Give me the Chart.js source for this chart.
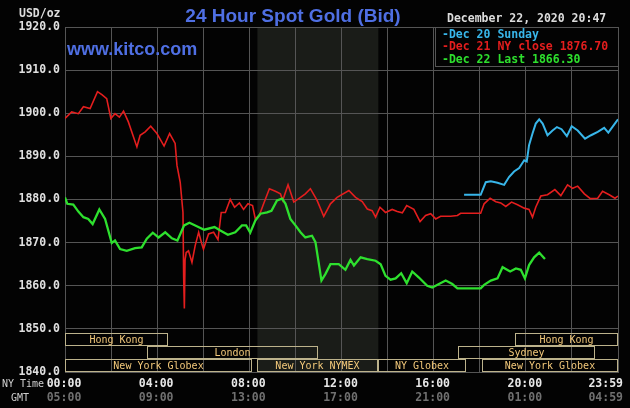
<!DOCTYPE html>
<html><head><meta charset="utf-8">
<script src="https://cdn.jsdelivr.net/npm/chart.js@4.4.1/dist/chart.umd.min.js"></script>
<style>html,body{margin:0;padding:0;background:#000;overflow:hidden}canvas{display:block}</style>
</head><body>
<canvas id="c" width="630" height="408"></canvas>
<script>
// ---- text ----
const titleText = '24 Hour Spot Gold (Bid)';
const siteText = 'www.kitco.com';
const unitText = 'USD/oz';
const stampText = 'December 22, 2020 20:47';
const nyRowLabel = 'NY Time';
const gmtRowLabel = 'GMT';
const seriesLabels = ['Dec 20 Sunday', 'Dec 21 NY close 1876.70', 'Dec 22 Last 1866.30'];

// ---- x tick labels (hours 0,4,...,24) ----
const tickHours = [0, 4, 8, 12, 16, 20, 24];
const nyTickLabels = ['00:00', '04:00', '08:00', '12:00', '16:00', '20:00', '23:59'];
const gmtTickLabels = ['05:00', '09:00', '13:00', '17:00', '21:00', '01:00', '04:59'];

// ---- Dec 20 Sunday (blue) ----
const blueHours = [17.32,18.04,18.26,18.48,18.77,19.06,19.27,19.49,19.71,19.93,20.04,20.14,20.29,20.43,20.58,20.73,20.94,21.16,21.35,21.55,21.78,21.99,22.25,22.57,22.83,23.12,23.4,23.58,23.84,24];
const blueValues = [1881.1,1881.1,1884.0,1884.2,1883.9,1883.4,1885.2,1886.5,1887.3,1889.1,1888.8,1892.6,1895.3,1897.6,1898.6,1897.6,1894.9,1896.0,1896.8,1896.3,1894.7,1897.0,1896.0,1894.1,1894.9,1895.7,1896.6,1895.5,1897.4,1898.6];

// ---- Dec 21 (red) ----
const redHours = [0,0.29,0.58,0.8,1.09,1.41,1.6,1.81,1.99,2.17,2.36,2.54,2.75,3.12,3.26,3.48,3.72,3.99,4.3,4.54,4.78,4.86,5.0,5.12,5.15,5.18,5.21,5.26,5.36,5.51,5.65,5.8,5.94,6.01,6.23,6.45,6.64,6.78,6.96,7.17,7.36,7.57,7.75,7.94,8.14,8.26,8.43,8.62,8.87,9.13,9.35,9.45,9.68,9.93,10.22,10.43,10.65,10.94,11.23,11.52,11.81,12.32,12.61,12.9,13.12,13.33,13.48,13.67,13.91,14.2,14.42,14.64,14.83,15.14,15.41,15.65,15.87,16.09,16.3,16.74,17.03,17.17,18.04,18.19,18.45,18.7,18.91,19.13,19.38,19.64,19.93,20.14,20.29,20.43,20.65,20.94,21.26,21.52,21.81,22.03,22.25,22.54,22.8,23.12,23.33,23.62,23.87,24];
const redValues = [1898.8,1900.3,1899.9,1901.5,1901.1,1905.0,1904.3,1903.4,1898.8,1899.9,1899.1,1900.5,1898.0,1892.2,1894.9,1895.7,1897.0,1895.3,1892.4,1895.3,1893.0,1887.9,1884.0,1877.0,1862.0,1854.7,1866.0,1867.7,1868.1,1865.4,1869.3,1872.4,1869.7,1868.5,1872.0,1872.4,1870.7,1877.0,1877.0,1880.0,1878.2,1879.2,1877.7,1879.0,1878.6,1875.5,1876.3,1879.0,1882.5,1881.9,1881.3,1879.8,1883.4,1879.4,1880.5,1881.3,1882.5,1879.8,1876.1,1879.0,1880.5,1882.1,1880.5,1879.5,1877.8,1877.4,1875.9,1878.2,1877.0,1877.7,1877.2,1876.9,1878.6,1877.7,1874.9,1876.3,1876.7,1875.5,1876.1,1876.1,1876.3,1876.8,1876.8,1879.0,1880.3,1879.5,1879.2,1878.4,1879.4,1878.8,1878.0,1877.7,1875.9,1878.2,1880.8,1881.1,1882.3,1880.9,1883.4,1882.6,1883.1,1881.3,1880.2,1880.3,1881.9,1881.1,1880.3,1880.8];

// ---- Dec 22 (green) ----
const greenHours = [0,0.1,0.36,0.58,0.8,1.01,1.2,1.49,1.74,2.03,2.17,2.39,2.68,3.04,3.33,3.55,3.81,4.06,4.35,4.64,4.88,5.17,5.4,5.72,6.04,6.49,6.74,7.07,7.39,7.68,7.86,8.04,8.26,8.48,8.77,8.96,9.2,9.42,9.57,9.78,10.0,10.22,10.43,10.72,10.87,11.13,11.3,11.52,11.88,12.17,12.39,12.54,12.83,13.12,13.48,13.7,13.91,14.13,14.35,14.59,14.83,15.07,15.36,15.72,15.94,16.23,16.52,16.81,17.03,18.04,18.19,18.48,18.77,18.99,19.32,19.57,19.78,19.96,20.14,20.36,20.58,20.73,20.83];
const greenValues = [1880.5,1879.0,1878.8,1877.2,1875.9,1875.5,1874.3,1877.7,1875.5,1869.9,1870.5,1868.5,1868.1,1868.7,1868.9,1870.9,1872.3,1871.2,1872.4,1871.0,1870.5,1874.0,1874.6,1873.8,1873.0,1873.6,1872.8,1871.8,1872.4,1874.0,1874.0,1872.3,1875.1,1876.7,1877.0,1877.4,1879.8,1880.2,1879.0,1875.5,1874.0,1872.4,1871.2,1871.6,1870.1,1861.2,1862.7,1865.0,1865.0,1863.7,1866.0,1864.7,1866.6,1866.2,1865.8,1865.0,1862.3,1861.4,1861.7,1862.9,1860.6,1863.3,1861.9,1860.0,1859.6,1860.4,1861.2,1860.4,1859.4,1859.4,1860.2,1861.2,1861.7,1864.3,1863.3,1864.0,1863.7,1861.7,1864.8,1866.6,1867.7,1866.8,1866.2];

// ---- trading sessions (hours, NY time) ----
const sessionNames = ['Hong Kong', 'London', 'New York Globex', 'New York NYMEX', 'NY Globex', 'Sydney', 'Hong Kong', 'New York Globex'];
const sessionStart = [0, 3.55, 0, 8.35, 13.6, 17.05, 19.55, 18.08];
const sessionEnd   = [4.48, 11.0, 8.1, 13.57, 17.4, 23.0, 24, 24];
const sessionRow   = [0, 1, 2, 2, 2, 1, 0, 2];
const rowTopValues = [1849, 1846, 1843];
const rowBottomValues = [1846, 1843, 1840];
const nymexHours = [8.35, 13.6];

const mono = "'DejaVu Sans Mono', 'Liberation Mono', monospace";
const sans = "'Liberation Sans', Arial, sans-serif";
const gridColor = '#555555';

function pts(h, v) { return h.map((x, i) => ({ x: x, y: v[i] })); }

const decor = {
  id: 'decor',
  beforeDraw(chart) {
    const c = chart.ctx, a = chart.chartArea, xs = chart.scales.x;
    c.save();
    c.fillStyle = '#030303';
    c.fillRect(0, 0, chart.width, chart.height);
    const x0 = xs.getPixelForValue(nymexHours[0]), x1 = xs.getPixelForValue(nymexHours[1]);
    c.fillStyle = '#1a1c18';
    c.fillRect(x0, a.top, x1 - x0, a.bottom - a.top);
    c.restore();
  },
  afterDatasetsDraw(chart) {
    const c = chart.ctx, a = chart.chartArea, xs = chart.scales.x, ys = chart.scales.y;
    c.save();
    // session boxes
    c.lineWidth = 1;
    c.font = '10px ' + mono;
    c.textAlign = 'center';
    c.textBaseline = 'middle';
    for (let i = 0; i < sessionNames.length; i++) {
      const l = Math.round(xs.getPixelForValue(sessionStart[i])) + 0.5;
      const r = Math.round(xs.getPixelForValue(sessionEnd[i])) - 0.5;
      const t = Math.round(ys.getPixelForValue(rowTopValues[sessionRow[i]])) + 0.5;
      const b = Math.round(ys.getPixelForValue(rowBottomValues[sessionRow[i]])) - 0.5;
      c.strokeStyle = '#bdb38c';
      c.strokeRect(l, t, r - l, b - t);
      c.fillStyle = '#f2c87a';
      c.fillText(sessionNames[i], (l + r) / 2, (t + b) / 2 + 1);
    }
    // legend box
    const lx = a.right - 183, ly = a.top, lw = 184, lh = 39;
    c.fillStyle = '#030303';
    c.fillRect(lx, ly, lw, lh);
    c.strokeStyle = gridColor;
    c.strokeRect(lx + 0.5, ly + 0.5, lw - 1, lh);
    c.font = 'bold 11.5px ' + mono;
    c.textAlign = 'left';
    chart.data.datasets.forEach((ds, i) => {
      c.fillStyle = ds.borderColor;
      c.fillText('-' + ds.label, lx + 7, ly + 8 + i * 12.5);
    });
    c.restore();
  },
  afterDraw(chart) {
    const c = chart.ctx, xs = chart.scales.x, a = chart.chartArea;
    c.save();
    c.fillStyle = '#4f6fe3';
    c.textAlign = 'center';
    c.textBaseline = 'alphabetic';
    c.font = 'bold 19px ' + sans;
    c.fillText(titleText, 293, 22);
    c.textAlign = 'left';
    c.font = 'bold 18px ' + sans;
    c.fillText(siteText, 67, 55);
    c.textBaseline = 'middle';
    c.fillStyle = '#dcdcdc';
    c.font = 'bold 11.5px ' + mono;
    c.fillText(unitText, 19, 14);
    c.fillText(stampText, 447, 19);
    // x-axis tick labels, placed through the x scale
    const last = tickHours.length - 1;
    tickHours.forEach((h, k) => {
      const px = xs.getPixelForValue(h);
      c.textAlign = k === last ? 'right' : 'center';
      const x = k === last ? chart.width - 7 : px - 1;
      c.fillStyle = '#e8e8e8';
      c.fillText(nyTickLabels[k], x, a.bottom + 12);
      c.fillStyle = '#707070';
      c.fillText(gmtTickLabels[k], x, a.bottom + 26);
    });
    c.textAlign = 'left';
    c.font = '10px ' + mono;
    c.fillStyle = '#cfcfcf';
    c.fillText(nyRowLabel, 2, a.bottom + 12);
    c.fillText(gmtRowLabel, 11, a.bottom + 26);
    c.restore();
  }
};

new Chart(document.getElementById('c'), {
  type: 'line',
  data: {
    datasets: [
      { label: seriesLabels[0], data: pts(blueHours, blueValues), borderColor: '#38b6ea', borderWidth: 2, order: 2 },
      { label: seriesLabels[1], data: pts(redHours, redValues), borderColor: '#e41e1e', borderWidth: 1.6, order: 1 },
      { label: seriesLabels[2], data: pts(greenHours, greenValues), borderColor: '#2ee02e', borderWidth: 2.3, order: 0 }
    ]
  },
  options: {
    responsive: false,
    animation: false,
    devicePixelRatio: 1,
    layout: { padding: { top: 27, right: 12, left: 0, bottom: 0 } },
    plugins: { legend: { display: false }, tooltip: { enabled: false }, title: { display: false } },
    elements: { point: { radius: 0 }, line: { tension: 0 } },
    scales: {
      x: {
        type: 'linear', position: 'bottom', min: 0, max: 24,
        ticks: { stepSize: 2, display: false },
        grid: { color: gridColor, lineWidth: 1, drawTicks: false },
        border: { color: gridColor },
        afterFit: s => { s.height = 36; }
      },
      y: {
        min: 1840, max: 1920,
        ticks: { stepSize: 10, padding: 5, color: '#e0e0e0',
                 font: { family: mono, size: 11.5, weight: 'bold' }, callback: v => Number(v).toFixed(1) },
        grid: { color: gridColor, lineWidth: 1, drawTicks: false },
        border: { color: gridColor },
        afterFit: s => { s.width = 65; }
      }
    }
  },
  plugins: [decor]
});
</script>
</body></html>
